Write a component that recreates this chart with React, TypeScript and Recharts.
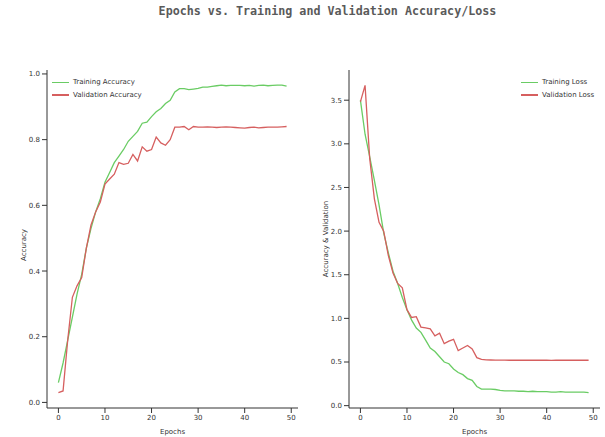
import { Line, LineChart, XAxis, YAxis } from "recharts";

const trainAcc = [
  0.06, 0.12, 0.19, 0.26, 0.33, 0.39, 0.47, 0.53, 0.58, 0.62,
  0.67, 0.7, 0.73, 0.75, 0.77, 0.795, 0.81, 0.825, 0.85, 0.853,
  0.87, 0.885, 0.895, 0.91, 0.92, 0.945, 0.955, 0.955, 0.952, 0.954,
  0.956, 0.96, 0.96, 0.962, 0.964, 0.966, 0.964, 0.965, 0.965, 0.965,
  0.964, 0.965, 0.963, 0.965, 0.966, 0.964, 0.965, 0.966, 0.966, 0.963,
];
const valAcc = [
  0.03, 0.035, 0.19, 0.32, 0.355, 0.38, 0.47, 0.54, 0.58, 0.61,
  0.665, 0.68, 0.695, 0.73, 0.725, 0.728, 0.755, 0.735, 0.778, 0.765,
  0.77, 0.808, 0.79, 0.783, 0.8, 0.838, 0.838, 0.84, 0.83, 0.84,
  0.838, 0.838, 0.839, 0.838, 0.837, 0.838, 0.839, 0.838, 0.837, 0.836,
  0.835, 0.837, 0.838, 0.836, 0.837, 0.838, 0.838, 0.838, 0.839, 0.84,
];
const trainLoss = [
  3.5, 3.11, 2.85, 2.58, 2.3, 1.98, 1.75, 1.54, 1.4, 1.24,
  1.1, 0.98, 0.89, 0.84, 0.75, 0.66, 0.62, 0.56, 0.5, 0.48,
  0.42, 0.38, 0.355, 0.31, 0.29, 0.22, 0.19, 0.19, 0.19, 0.185,
  0.175, 0.17, 0.17, 0.17, 0.165, 0.165, 0.16, 0.165, 0.16, 0.16,
  0.16, 0.155, 0.155, 0.16, 0.155, 0.155, 0.155, 0.155, 0.155, 0.15,
];
const valLoss = [
  3.48, 3.67, 2.83, 2.37, 2.1, 2.0, 1.72, 1.52, 1.4, 1.35,
  1.1, 1.01, 1.02, 0.9, 0.89, 0.88, 0.8, 0.83, 0.71, 0.74,
  0.76, 0.63, 0.66, 0.69, 0.65, 0.55, 0.53, 0.525, 0.523, 0.522,
  0.521, 0.521, 0.52, 0.52, 0.52, 0.521, 0.52, 0.52, 0.52, 0.52,
  0.52, 0.519, 0.52, 0.52, 0.52, 0.52, 0.52, 0.52, 0.52, 0.52,
];
const epochTicks = [0, 10, 20, 30, 40, 50];
const accTicks = [0, 0.2, 0.4, 0.6, 0.8, 1.0];
const lossTicks = [0, 0.5, 1.0, 1.5, 2.0, 2.5, 3.0, 3.5];

const accData = trainAcc.map((v, i) => ({ epoch: i, train: v, val: valAcc[i] }));
const lossData = trainLoss.map((v, i) => ({ epoch: i, train: v, val: valLoss[i] }));

const GREEN = "#6acc64";
const RED = "#d65f5f";
const AXIS = "#333";
const FONT = "'DejaVu Sans', sans-serif";
const tickStyle = { fontSize: 7, fill: "#333", fontFamily: FONT };
const labelStyle = { fontSize: 7, fill: "#333", fontFamily: FONT };

// plain html legend so it doesn't eat into the plot area
function LegendBox({ names, left, top }: any) {
  const colors = [GREEN, RED];
  return (
    <div style={{ position: "absolute", left, top, fontFamily: FONT, fontSize: 7, color: "#333" }}>
      {names.map((n: string, i: number) => (
        <div key={n} style={{ display: "flex", alignItems: "center", height: 12.7 }}>
          <span style={{ display: "block", width: 17, height: 1.5, background: colors[i], marginRight: 4 }} />
          <span>{n}</span>
        </div>
      ))}
    </div>
  );
}

function Panel({ data, domain, ticks, yLabel, names, labelDy }: any) {
  return (
    <LineChart width={302} height={437} data={data} margin={{ top: 70, right: 4, bottom: 0, left: 0 }}>
      <XAxis
        dataKey="epoch"
        type="number"
        domain={[-2.45, 51.45]}
        ticks={epochTicks}
        allowDataOverflow
        height={29}
        tick={tickStyle}
        tickSize={5}
        tickMargin={2}
        stroke={AXIS}
        label={{ value: "Epochs", position: "insideBottom", offset: 3, style: labelStyle }}
      />
      <YAxis
        type="number"
        domain={domain}
        ticks={ticks}
        allowDataOverflow
        width={47}
        tick={tickStyle}
        tickSize={5}
        tickMargin={2}
        stroke={AXIS}
        tickFormatter={(v: number) => v.toFixed(1)}
        label={{ value: yLabel, angle: -90, position: "center", dx: 0, dy: labelDy, style: labelStyle }}
      />
      <Line type="linear" dataKey="train" name={names[0]} stroke={GREEN} strokeWidth={1.3} dot={false} isAnimationActive={false} />
      <Line type="linear" dataKey="val" name={names[1]} stroke={RED} strokeWidth={1.3} dot={false} isAnimationActive={false} />
    </LineChart>
  );
}

export default function App() {
  const accNames = ["Training Accuracy", "Validation Accuracy"];
  const lossNames = ["Training Loss", "Validation Loss"];
  return (
    <div style={{ position: "absolute", left: 0, top: 0, width: 605, height: 437, background: "#fff" }}>
      <div
        style={{
          position: "absolute",
          left: 0,
          width: 655,
          top: 4,
          textAlign: "center",
          fontFamily: "'DejaVu Sans Mono', monospace",
          fontWeight: "bold",
          fontSize: 11.7,
          color: "#5a5a5a",
        }}
      >
        Epochs vs. Training and Validation Accuracy/Loss
      </div>
      <div style={{ position: "absolute", left: 0, top: 0 }}>
        <Panel data={accData} domain={[-0.017, 1.012]} ticks={accTicks} yLabel="Accuracy" names={accNames} labelDy={6} />
        <LegendBox names={accNames} left={52} top={76} />
      </div>
      <div style={{ position: "absolute", left: 302, top: 0 }}>
        <Panel data={lossData} domain={[-0.027, 3.846]} ticks={lossTicks} yLabel="Accuracy & Validation" names={lossNames} labelDy={0} />
        <LegendBox names={lossNames} left={219} top={76} />
      </div>
    </div>
  );
}
